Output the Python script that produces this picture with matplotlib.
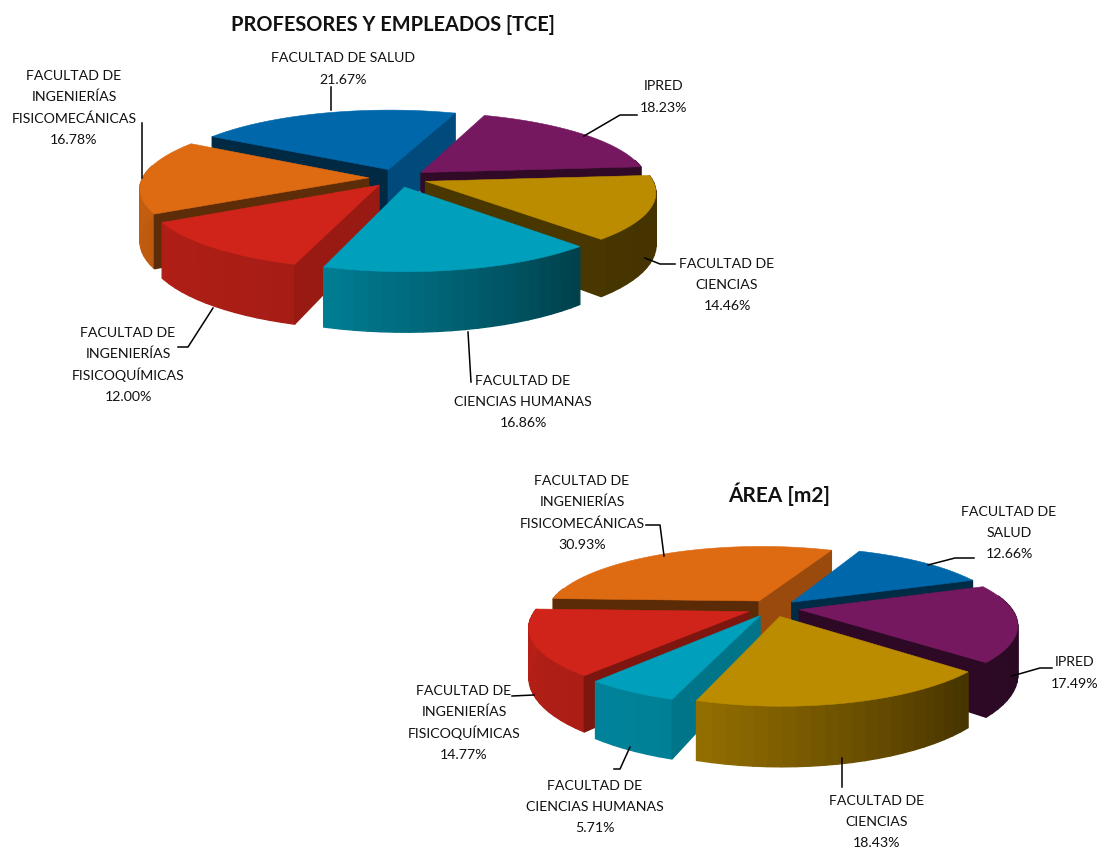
import numpy as np
import matplotlib
matplotlib.use('Agg')
import matplotlib.pyplot as plt
from matplotlib.colors import to_rgb

plt.rcParams['font.family'] = ['Lato', 'DejaVu Sans']

# orden de las porciones (sentido horario)
facultades = ['FACULTAD DE SALUD', 'IPRED', 'FACULTAD DE CIENCIAS', 'FACULTAD DE CIENCIAS HUMANAS',
              'FACULTAD DE INGENIERIAS FISICOQUIMICAS', 'FACULTAD DE INGENIERIAS FISICOMECANICAS']
colores = ['#0068AA', '#75185F', '#BC8C00', '#00A0BC', '#D0241A', '#DE6A12']

profesores = [21.67, 18.23, 14.46, 16.86, 12.00, 16.78]
area = [12.66, 17.49, 18.43, 5.71, 14.77, 30.93]

etiquetas_1 = ['FACULTAD DE SALUD\n21.67%', 'IPRED\n18.23%', 'FACULTAD DE\nCIENCIAS\n14.46%',
               'FACULTAD DE\nCIENCIAS HUMANAS\n16.86%', 'FACULTAD DE\nINGENIERÍAS\nFISICOQUÍMICAS\n12.00%',
               'FACULTAD DE\nINGENIERÍAS\nFISICOMECÁNICAS\n16.78%']
etiquetas_2 = ['FACULTAD DE\nSALUD\n12.66%', 'IPRED\n17.49%', 'FACULTAD DE\nCIENCIAS\n18.43%',
               'FACULTAD DE\nCIENCIAS HUMANAS\n5.71%', 'FACULTAD DE\nINGENIERÍAS\nFISICOQUÍMICAS\n14.77%',
               'FACULTAD DE\nINGENIERÍAS\nFISICOMECÁNICAS\n30.93%']

pos_1 = [(343, 68), (664, 96), (727, 284), (523, 401), (128, 364), (74, 107)]
pos_2 = [(1009, 532), (1075, 672), (877, 821), (595, 806), (464, 722), (582, 512)]

lineas_1 = [[(331, 87), (331, 110)], [(637, 115), (620, 115), (584, 136)],
            [(675, 264), (660, 264), (645, 258)], [(471, 382), (468, 332)],
            [(178, 347), (188, 347), (213, 308)], [(142, 123), (142, 178)]]
lineas_2 = [[(974, 558), (955, 558), (928, 565)], [(1052, 668), (1040, 668), (1012, 676)],
            [(842, 758), (842, 787)], [(630, 747), (620, 769), (614, 769)],
            [(512, 696), (534, 695)], [(646, 525), (660, 525), (664, 556)]]


def tono(base, f):
    return tuple(np.array(to_rgb(base)) * f)


def torta(ax, valores, inicio, cx, cy, rx, ry, D, k=0.15, e=0.13):
    def proy(X, Y):
        s = 1 / (1 + k * Y)
        return cx + rx * X * s, cy - ry * Y * s, D * s

    def cara(p, q, color):
        x1, y1, d1 = proy(*p)
        x2, y2, d2 = proy(*q)
        ax.fill([x1, x2, x2, x1], [y1, y2, y2 + d2, y1 + d1], color=color, lw=1.0)

    angulos = inicio + np.cumsum([0] + list(valores)) * 3.6
    medios = (angulos[:-1] + angulos[1:]) / 2
    # de atras hacia adelante
    orden = np.argsort(-np.cos(np.radians(medios)))
    for i in orden:
        a, b = angulos[i], angulos[i + 1]
        m = np.radians(medios[i])
        ax0, ay0 = e * np.sin(m), e * np.cos(m)
        th = np.arange(a, b + 3, 3.0)
        th[-1] = b
        X = ax0 + np.sin(np.radians(th))
        Y = ay0 + np.cos(np.radians(th))

        # pared exterior con degradado
        for j in range(len(th) - 1):
            tm = (th[j] + th[j + 1]) / 2
            if np.cos(np.radians(tm)) < 0.2:
                f = np.interp(tm % 360, [90, 135, 200, 270], [0.36, 0.38, 0.8, 0.88])
                cara((X[j], Y[j]), (X[j + 1], Y[j + 1]), tono(colores[i], f))

        # caras del corte
        for t, n in [(a, a - 90), (b, b + 90)]:
            if np.cos(np.radians(n)) < 0:
                f = np.interp(n % 360, [100, 130, 150, 260], [0.78, 0.6, 0.42, 0.38])
                cara((ax0, ay0), (ax0 + np.sin(np.radians(t)), ay0 + np.cos(np.radians(t))), tono(colores[i], f))

        # tapa
        px, py, _ = proy(np.r_[ax0, X], np.r_[ay0, Y])
        ax.fill(px, py, color=colores[i], lw=0.4)


fig = plt.figure(figsize=(11.02, 8.49), dpi=100)
ax = fig.add_axes([0, 0, 1, 1])
ax.set_xlim(0, 1102)
ax.set_ylim(849, 0)
ax.axis('off')

torta(ax, profesores, -58.5, 398, 178, 226, 70, 51, k=0.14)
torta(ax, area, 23.5, 773, 608, 212, 68, 47, k=0.2, e=0.125)

for etiquetas, pos, lineas in [(etiquetas_1, pos_1, lineas_1), (etiquetas_2, pos_2, lineas_2)]:
    for txt, p, l in zip(etiquetas, pos, lineas):
        filas = txt.split('\n')
        # cada fila aparte para que el interlineado sea parejo
        for n, fila in enumerate(filas):
            ax.text(p[0], p[1] + (n - (len(filas) - 1) / 2) * 21.3 + 5, fila, ha='center', va='baseline',
                    fontsize=10.2, color='#111111')
        ax.plot([q[0] for q in l], [q[1] for q in l], color='k', lw=1.1)

ax.text(393, 25, 'PROFESORES Y EMPLEADOS [TCE]', ha='center', va='center', fontsize=14.4, fontweight='bold', color='#111111')
ax.text(779, 494, 'ÁREA [m2]', ha='center', va='center', fontsize=15, fontweight='bold', color='#111111')

fig.savefig('out.png', dpi=100)
